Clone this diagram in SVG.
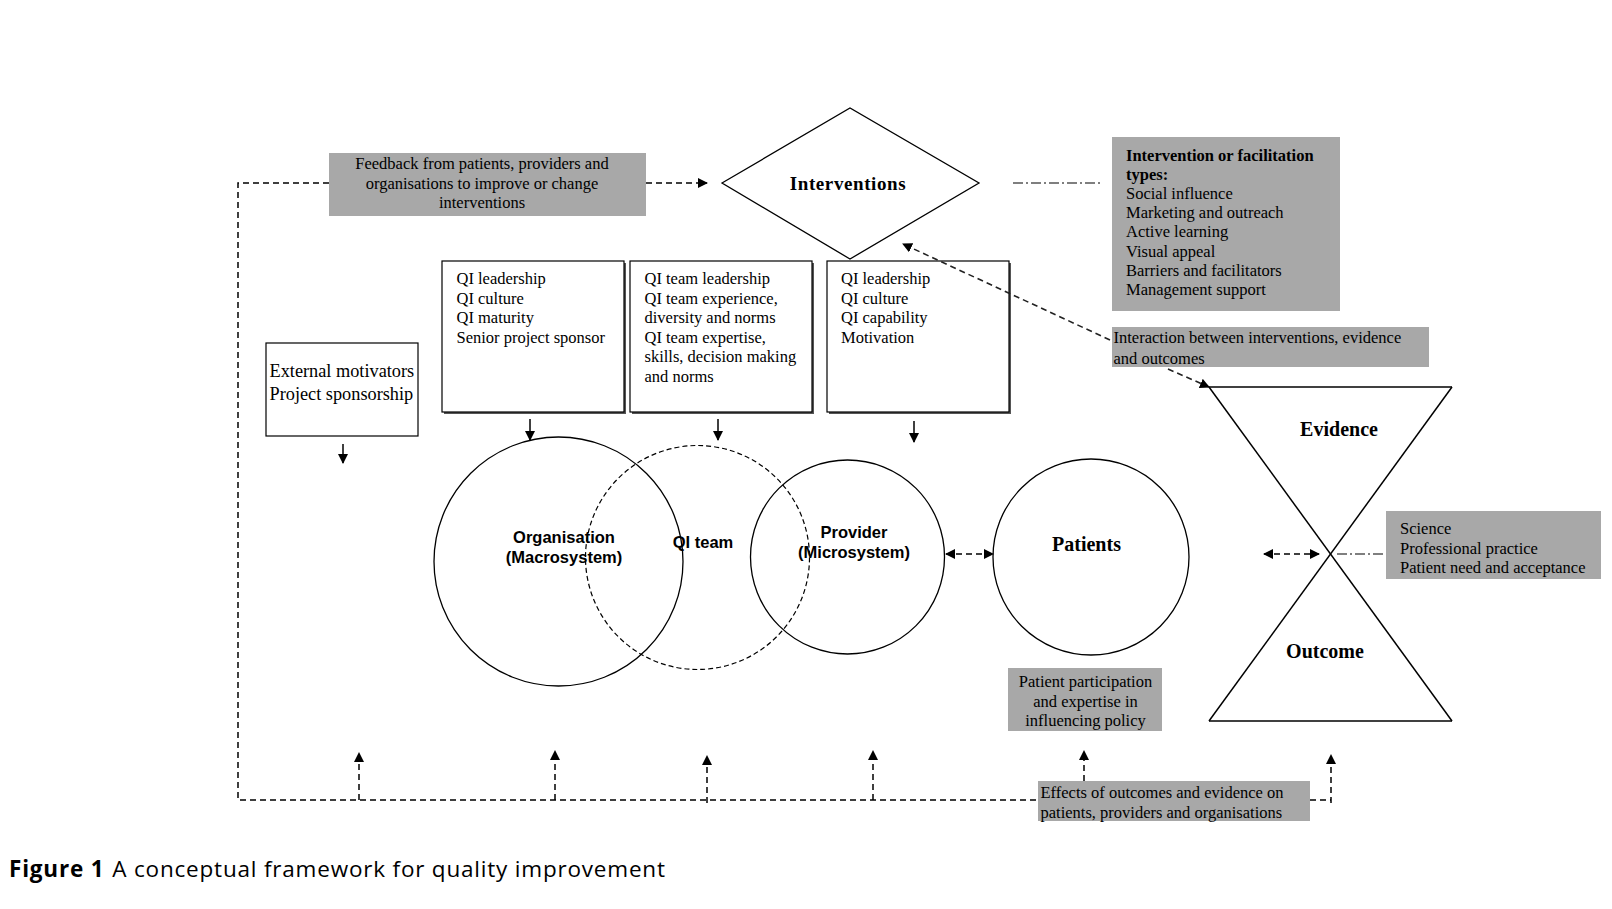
<svg xmlns="http://www.w3.org/2000/svg" width="1612" height="909" viewBox="0 0 1612 909">
<style>
.serif{font-family:"Liberation Serif","Times New Roman",serif;font-size:16.5px;fill:#000}
.ext{font-family:"Liberation Serif","Times New Roman",serif;font-size:18.3px;fill:#000}
.big{font-family:"Liberation Serif","Times New Roman",serif;font-size:20px;font-weight:bold;fill:#000}
.sans{font-family:"Liberation Sans",Arial,sans-serif;font-size:16.5px;font-weight:bold;fill:#000}
.gray{fill:#a8a8a8;stroke:none}
.box{fill:#fff;stroke:#000;stroke-width:1.2}
.shadow{fill:#555;stroke:none}
.shape{fill:#fff;stroke:#000;stroke-width:1.3}
.dash{fill:none;stroke:#000;stroke-width:1.5;stroke-dasharray:6,4}
.dashd{fill:none;stroke:#222;stroke-width:1.6;stroke-dasharray:6,4}
.dashdot{fill:none;stroke:#000;stroke-width:1.2;stroke-dasharray:10,3,2,3}
.solid{fill:none;stroke:#000;stroke-width:1.5}
</style>
<defs>
<marker id="ah" viewBox="0 0 10 10" refX="9" refY="5" markerWidth="10" markerHeight="10" markerUnits="userSpaceOnUse" orient="auto-start-reverse">
<path d="M0,0 L10,5 L0,10 z" fill="#000"/>
</marker>
</defs>
<rect width="1612" height="909" fill="#fff"/>

<g id="feedback">
<rect class="gray" x="329" y="153" width="317" height="63"/>
<text class="serif" text-anchor="middle" x="482" y="169">Feedback from patients, providers and</text>
<text class="serif" text-anchor="middle" x="482" y="188.5">organisations to improve or change</text>
<text class="serif" text-anchor="middle" x="482" y="208">interventions</text>
</g>

<g id="interventions">
<polygon class="shape" points="722,183 850,108 979,183 850,259"/>
<text class="big" text-anchor="middle" x="848" y="190" style="font-size:19px;letter-spacing:0.6px">Interventions</text>
</g>

<g id="types">
<rect class="gray" x="1112" y="137" width="228" height="174"/>
<text class="serif" x="1126" y="160.5" font-weight="bold">Intervention or facilitation</text>
<text class="serif" x="1126" y="180" font-weight="bold">types:</text>
<text class="serif" x="1126" y="199">Social influence</text>
<text class="serif" x="1126" y="218">Marketing and outreach</text>
<text class="serif" x="1126" y="237">Active learning</text>
<text class="serif" x="1126" y="256.5">Visual appeal</text>
<text class="serif" x="1126" y="275.5">Barriers and facilitators</text>
<text class="serif" x="1126" y="295">Management support</text>
</g>

<g id="interaction">
<rect class="gray" x="1112" y="327" width="317" height="40"/>
<text class="serif" x="1113.5" y="343">Interaction between interventions, evidence</text>
<text class="serif" x="1113.5" y="363.5">and outcomes</text>
</g>

<g id="external">
<rect class="box" x="266" y="343" width="152" height="93"/>
<text class="ext" x="269.5" y="377">External motivators</text>
<text class="ext" x="269.5" y="400">Project sponsorship</text>
</g>

<g id="org-factors">
<rect class="shadow" x="444" y="263" width="182" height="151"/>
<rect class="box" x="442" y="261" width="182" height="151"/>
<text class="serif" x="456.5" y="284">QI leadership</text>
<text class="serif" x="456.5" y="303.5">QI culture</text>
<text class="serif" x="456.5" y="323">QI maturity</text>
<text class="serif" x="456.5" y="342.5">Senior project sponsor</text>
</g>

<g id="team-factors">
<rect class="shadow" x="632" y="263" width="182" height="151"/>
<rect class="box" x="630" y="261" width="182" height="151"/>
<text class="serif" x="644.5" y="284">QI team leadership</text>
<text class="serif" x="644.5" y="303.5">QI team experience,</text>
<text class="serif" x="644.5" y="323">diversity and norms</text>
<text class="serif" x="644.5" y="342.5">QI team expertise,</text>
<text class="serif" x="644.5" y="362">skills, decision making</text>
<text class="serif" x="644.5" y="381.5">and norms</text>
</g>

<g id="provider-factors">
<rect class="shadow" x="829" y="263" width="182" height="151"/>
<rect class="box" x="827" y="261" width="182" height="151"/>
<text class="serif" x="841" y="284">QI leadership</text>
<text class="serif" x="841" y="303.5">QI culture</text>
<text class="serif" x="841" y="323">QI capability</text>
<text class="serif" x="841" y="342.5">Motivation</text>
</g>

<g id="organisation">
<circle cx="558.5" cy="561.5" r="124.5" fill="none" stroke="#000" stroke-width="1.3"/>
<text class="sans" text-anchor="middle" x="564" y="542.5">Organisation</text>
<text class="sans" text-anchor="middle" x="564" y="563">(Macrosystem)</text>
</g>

<g id="qi-team">
<circle cx="697.5" cy="557.5" r="112" fill="none" stroke="#000" stroke-width="1.2" stroke-dasharray="5,3"/>
<text class="sans" text-anchor="middle" x="703" y="547.5">QI team</text>
</g>

<g id="provider">
<circle cx="847.5" cy="557" r="97" fill="none" stroke="#000" stroke-width="1.3"/>
<text class="sans" text-anchor="middle" x="854" y="537.5">Provider</text>
<text class="sans" text-anchor="middle" x="854" y="558">(Microsystem)</text>
</g>

<g id="patients">
<circle cx="1091" cy="557" r="98" fill="none" stroke="#000" stroke-width="1.3"/>
<text class="big" text-anchor="middle" x="1086.5" y="551">Patients</text>
</g>

<g id="evidence-outcome">
<line class="solid" x1="1209" y1="387" x2="1452" y2="387" stroke-width="1.4"/>
<line class="solid" x1="1209" y1="721" x2="1452" y2="721" stroke-width="1.4"/>
<line class="solid" x1="1209" y1="387" x2="1452" y2="721" stroke-width="1.3"/>
<line class="solid" x1="1452" y1="387" x2="1209" y2="721" stroke-width="1.3"/>
<text class="big" text-anchor="middle" x="1339" y="436">Evidence</text>
<text class="big" text-anchor="middle" x="1325" y="658">Outcome</text>
</g>

<g id="science">
<rect class="gray" x="1386" y="511" width="215" height="68"/>
<text class="serif" x="1400" y="534">Science</text>
<text class="serif" x="1400" y="553.5">Professional practice</text>
<text class="serif" x="1400" y="573">Patient need and acceptance</text>
</g>

<g id="participation">
<rect class="gray" x="1008" y="668" width="154" height="63"/>
<text class="serif" text-anchor="middle" x="1085.5" y="687">Patient participation</text>
<text class="serif" text-anchor="middle" x="1085.5" y="706.5">and expertise in</text>
<text class="serif" text-anchor="middle" x="1085.5" y="726">influencing policy</text>
</g>

<g id="effects">
<rect class="gray" x="1038" y="781" width="272" height="40"/>
<text class="serif" x="1040.5" y="798">Effects of outcomes and evidence on</text>
<text class="serif" x="1040.5" y="817.5">patients, providers and organisations</text>
</g>

<g id="connectors">
<!-- feedback loop -->
<polyline class="dash" points="329,183 238,183 238,800 1038,800"/>
<line class="dash" x1="1310" y1="800" x2="1331" y2="800"/>
<line class="dash" x1="646" y1="183" x2="707" y2="183" marker-end="url(#ah)"/>
<line class="dashdot" x1="1013" y1="183" x2="1100" y2="183"/>
<!-- interaction arrows -->
<line class="dashd" x1="1110" y1="340" x2="903" y2="244" marker-end="url(#ah)"/>
<line class="dashd" x1="1168" y1="369" x2="1209" y2="387" marker-end="url(#ah)"/>
<!-- down arrows -->
<line class="solid" x1="343" y1="444" x2="343" y2="463" marker-end="url(#ah)"/>
<line class="solid" x1="530" y1="419" x2="530" y2="440" marker-end="url(#ah)"/>
<line class="solid" x1="718" y1="419" x2="718" y2="440" marker-end="url(#ah)"/>
<line class="solid" x1="914" y1="421" x2="914" y2="442" marker-end="url(#ah)"/>
<!-- up arrows -->
<line class="dash" x1="359" y1="800" x2="359" y2="753" marker-end="url(#ah)"/>
<line class="dash" x1="555" y1="800" x2="555" y2="751" marker-end="url(#ah)"/>
<line class="dash" x1="707" y1="803" x2="707" y2="756" marker-end="url(#ah)"/>
<line class="dash" x1="873" y1="800" x2="873" y2="751" marker-end="url(#ah)"/>
<line class="dash" x1="1084" y1="781" x2="1084" y2="751" marker-end="url(#ah)"/>
<line class="dash" x1="1331" y1="803" x2="1331" y2="755" marker-end="url(#ah)"/>
<!-- double arrows -->
<line class="dash" x1="946" y1="554" x2="993" y2="554" marker-start="url(#ah)" marker-end="url(#ah)"/>
<line class="dash" x1="1264" y1="554" x2="1319" y2="554" marker-start="url(#ah)" marker-end="url(#ah)"/>
<line class="dashdot" x1="1337" y1="554" x2="1386" y2="554"/>
</g>

<g id="caption">
<text x="9" y="877" font-family="'Open Sans','Noto Sans',sans-serif" font-size="22.5" letter-spacing="0.8" fill="#000"><tspan font-weight="bold">Figure 1</tspan><tspan dx="8">A conceptual framework for quality improvement</tspan></text>
</g>
</svg>
